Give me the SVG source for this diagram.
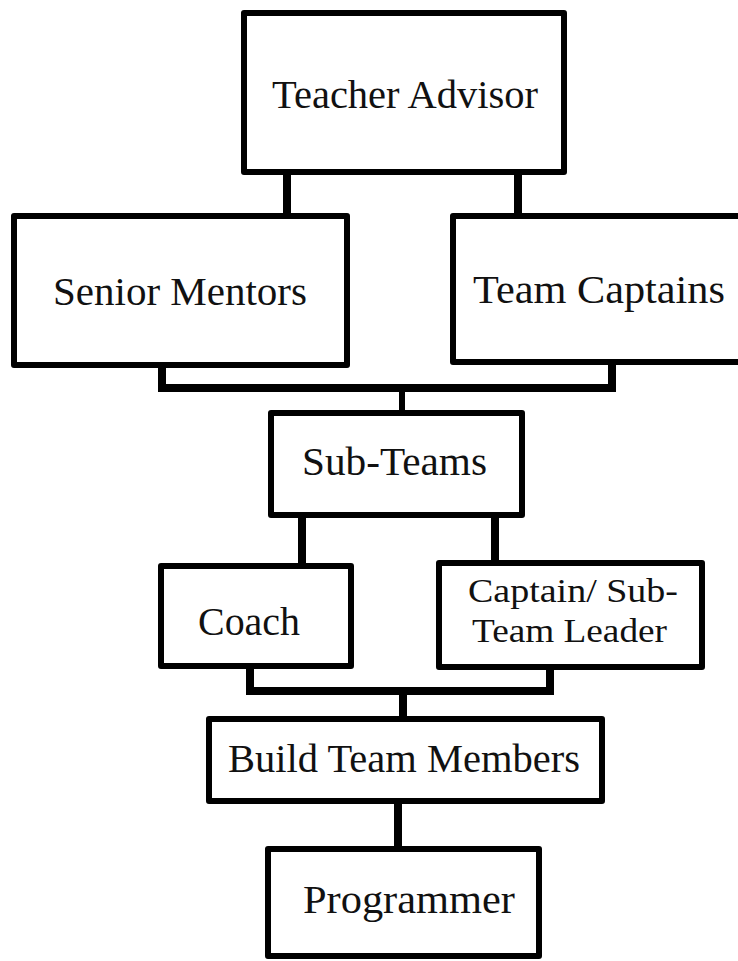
<svg xmlns="http://www.w3.org/2000/svg" width="738" height="961" viewBox="0 0 738 961">
<style>
.box{fill:#fff;stroke:#000;stroke-width:6;stroke-linejoin:round}
.edge{stroke:#000;stroke-width:8;stroke-linecap:butt;fill:none}
.lbl{font-family:"Liberation Serif","DejaVu Serif",serif;font-size:40px;fill:#111}
.sm{font-size:33px}
</style>
<rect width="738" height="961" fill="#fff"/>
<g id="connectors">
<line class="edge" x1="287" y1="170" x2="287" y2="216"/>
<line class="edge" x1="518" y1="170" x2="518" y2="216"/>
<line class="edge" x1="162" y1="364" x2="162" y2="392"/>
<line class="edge" x1="612" y1="362" x2="612" y2="390"/>
<line class="edge" x1="158" y1="388" x2="616" y2="388"/>
<line class="edge" x1="402" y1="390" x2="402" y2="413" style="stroke-width:6"/>
<line class="edge" x1="302" y1="514" x2="302" y2="566"/>
<line class="edge" x1="495" y1="518" x2="495" y2="563"/>
<line class="edge" x1="250" y1="666" x2="250" y2="694"/>
<line class="edge" x1="550" y1="666" x2="550" y2="690"/>
<line class="edge" x1="246" y1="691" x2="554" y2="691"/>
<line class="edge" x1="403" y1="691" x2="403" y2="720"/>
<line class="edge" x1="398" y1="801" x2="398" y2="850"/>
</g>
<g id="teacher-advisor">
<rect class="box" x="244" y="13" width="320" height="159"/>
<text class="lbl" x="272" y="108" textLength="266" lengthAdjust="spacingAndGlyphs">Teacher Advisor</text>
</g>
<g id="senior-mentors">
<rect class="box" x="14" y="216" width="333" height="149"/>
<text class="lbl" x="53" y="305" textLength="254" lengthAdjust="spacingAndGlyphs">Senior Mentors</text>
</g>
<g id="team-captains">
<rect class="box" x="453" y="216" width="300" height="146"/>
<text class="lbl" x="473" y="303" textLength="252" lengthAdjust="spacingAndGlyphs">Team Captains</text>
</g>
<g id="sub-teams">
<rect class="box" x="271" y="413" width="251" height="102"/>
<text class="lbl" x="302" y="475" textLength="185" lengthAdjust="spacingAndGlyphs">Sub-Teams</text>
</g>
<g id="coach">
<rect class="box" x="161" y="566" width="190" height="100"/>
<text class="lbl" x="198" y="635" textLength="102" lengthAdjust="spacingAndGlyphs">Coach</text>
</g>
<g id="captain-sub-team-leader">
<rect class="box" x="439" y="563" width="263" height="104"/>
<text class="lbl sm" x="468" y="602" textLength="210" lengthAdjust="spacingAndGlyphs">Captain/ Sub-</text>
<text class="lbl sm" x="472" y="642" textLength="195" lengthAdjust="spacingAndGlyphs">Team Leader</text>
</g>
<g id="build-team-members">
<rect class="box" x="209" y="719" width="393" height="82"/>
<text class="lbl" x="228" y="772" textLength="352" lengthAdjust="spacingAndGlyphs">Build Team Members</text>
</g>
<g id="programmer">
<rect class="box" x="268" y="849" width="271" height="107"/>
<text class="lbl" x="303" y="913" textLength="212" lengthAdjust="spacingAndGlyphs">Programmer</text>
</g>
</svg>
